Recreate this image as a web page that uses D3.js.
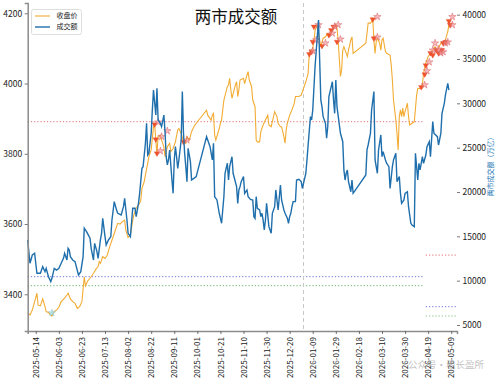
<!DOCTYPE html>
<html>
<head>
<meta charset="utf-8">
<script src="https://cdn.jsdelivr.net/npm/d3@7"></script>
<style>
  body { margin: 0; background: #fff; }
  text { font-family: "Noto Sans CJK SC", "DejaVu Sans", sans-serif; }
</style>
</head>
<body>
<div id="chart"></div>
<script>
// 收盘价 (left axis)
const closeSeries = [
  ["2025-05-07",3346],["2025-05-09",3341],["2025-05-11",3355],["2025-05-13",3379],["2025-05-15",3403],
  ["2025-05-16",3369],["2025-05-18",3367],["2025-05-20",3387],["2025-05-22",3365],["2025-05-23",3351],
  ["2025-05-25",3348],["2025-05-27",3341],["2025-05-28",3338],["2025-05-30",3351],["2025-06-01",3355],
  ["2025-06-03",3363],["2025-06-05",3379],["2025-06-08",3389],["2025-06-10",3398],["2025-06-11",3403],
  ["2025-06-13",3387],["2025-06-15",3379],["2025-06-17",3374],["2025-06-19",3360],["2025-06-21",3365],
  ["2025-06-23",3379],["2025-06-25",3450],["2025-06-26",3424],["2025-06-28",3438],["2025-07-01",3450],
  ["2025-07-03",3460],["2025-07-05",3471],["2025-07-07",3479],["2025-07-08",3493],["2025-07-09",3488],
  ["2025-07-11",3507],["2025-07-13",3502],["2025-07-15",3512],["2025-07-17",3535],["2025-07-19",3554],
  ["2025-07-22",3583],["2025-07-24",3602],["2025-07-26",3600],["2025-07-28",3607],["2025-07-30",3611],
  ["2025-07-31",3583],["2025-08-02",3562],["2025-08-04",3569],["2025-08-06",3611],["2025-08-07",3626],
  ["2025-08-09",3645],["2025-08-12",3659],["2025-08-13",3668],["2025-08-14",3702],["2025-08-16",3721],
  ["2025-08-17",3740],["2025-08-19",3773],["2025-08-20",3792],["2025-08-22",3811],["2025-08-23",3844],
  ["2025-08-24",3877],["2025-08-25",3885],["2025-08-26",3839],["2025-08-27",3799],["2025-08-28",3849],
  ["2025-08-30",3853],["2025-08-31",3839],["2025-09-02",3820],["2025-09-03",3792],["2025-09-05",3820],
  ["2025-09-07",3830],["2025-09-08",3806],["2025-09-10",3815],["2025-09-12",3834],["2025-09-14",3868],
  ["2025-09-15",3872],["2025-09-17",3858],["2025-09-19",3834],["2025-09-21",3830],["2025-09-22",3849],
  ["2025-09-24",3839],["2025-09-26",3863],["2025-09-28",3877],["2025-09-30",3887],["2025-10-09",3924],
  ["2025-10-10",3910],["2025-10-13",3896],["2025-10-14",3910],["2025-10-15",3915],["2025-10-16",3853],
  ["2025-10-17",3839],["2025-10-20",3872],["2025-10-21",3887],["2025-10-22",3896],["2025-10-23",3925],
  ["2025-10-24",3953],["2025-10-27",3991],["2025-10-28",3996],["2025-10-29",4015],["2025-10-30",3982],
  ["2025-10-31",3958],["2025-11-03",3996],["2025-11-04",4005],["2025-11-05",3963],["2025-11-06",3982],
  ["2025-11-07",4010],["2025-11-10",4015],["2025-11-11",4000],["2025-11-13",4024],["2025-11-14",4034],
  ["2025-11-15",4010],["2025-11-17",3991],["2025-11-18",3953],["2025-11-20",3934],["2025-11-21",3839],
  ["2025-11-22",3834],["2025-11-24",3834],["2025-11-25",3863],["2025-11-27",3882],["2025-11-29",3896],
  ["2025-12-01",3910],["2025-12-02",3882],["2025-12-04",3877],["2025-12-06",3906],["2025-12-07",3920],
  ["2025-12-09",3906],["2025-12-10",3887],["2025-12-12",3877],["2025-12-13",3877],["2025-12-15",3849],
  ["2025-12-16",3830],["2025-12-17",3868],["2025-12-18",3887],["2025-12-20",3910],["2025-12-22",3925],
  ["2025-12-24",3944],["2025-12-25",3963],["2025-12-28",3963],["2025-12-30",3967],["2026-01-03",4005],
  ["2026-01-05",4029],["2026-01-06",4086],["2026-01-08",4095],["2026-01-09",4100],["2026-01-10",4119],
  ["2026-01-11",4152],["2026-01-13",4167],["2026-01-14",4143],["2026-01-15",4124],["2026-01-16",4105],
  ["2026-01-18",4129],["2026-01-20",4133],["2026-01-22",4143],["2026-01-24",4138],["2026-01-26",4148],
  ["2026-01-27",4157],["2026-01-29",4167],["2026-01-30",4157],["2026-01-31",4124],["2026-02-02",4020],
  ["2026-02-03",4039],["2026-02-04",4095],["2026-02-05",4105],["2026-02-06",4095],["2026-02-08",4077],
  ["2026-02-09",4095],["2026-02-11",4124],["2026-02-12",4133],["2026-02-13",4086],["2026-02-24",4115],
  ["2026-02-25",4143],["2026-02-26",4172],["2026-02-28",4172],["2026-03-01",4176],["2026-03-02",4186],
  ["2026-03-03",4124],["2026-03-04",4086],["2026-03-05",4119],["2026-03-06",4129],["2026-03-08",4115],
  ["2026-03-09",4095],["2026-03-10",4124],["2026-03-11",4129],["2026-03-13",4091],["2026-03-14",4086],
  ["2026-03-17",4081],["2026-03-18",4053],["2026-03-19",4010],["2026-03-20",3953],["2026-03-22",3896],
  ["2026-03-23",3858],["2026-03-24",3811],["2026-03-25",3906],["2026-03-26",3925],["2026-03-27",3906],
  ["2026-03-28",3930],["2026-03-29",3906],["2026-03-30",3920],["2026-04-01",3944],["2026-04-02",3906],
  ["2026-04-03",3882],["2026-04-05",3887],["2026-04-07",3891],["2026-04-09",3967],["2026-04-10",3986],
  ["2026-04-12",3986],["2026-04-14",3996],["2026-04-15",4029],["2026-04-17",4058],["2026-04-19",4077],
  ["2026-04-21",4086],["2026-04-23",4095],["2026-04-25",4105],["2026-04-27",4095],["2026-04-30",4115],
  ["2026-05-02",4119],["2026-05-04",4124],["2026-05-06",4148],["2026-05-07",4167],["2026-05-08",4181]
];

// 成交额 (right axis)
const volumeSeries = [
  ["2025-05-07",14590],["2025-05-09",11960],["2025-05-11",12900],["2025-05-13",13090],["2025-05-15",10830],
  ["2025-05-18",10830],["2025-05-20",11580],["2025-05-22",11010],["2025-05-23",11390],["2025-05-25",10450],
  ["2025-05-27",9890],["2025-05-28",10260],["2025-05-30",11390],["2025-06-01",11200],["2025-06-03",11390],
  ["2025-06-05",11960],["2025-06-07",12520],["2025-06-08",13090],["2025-06-10",12330],["2025-06-11",13650],
  ["2025-06-12",13460],["2025-06-13",12700],["2025-06-15",12330],["2025-06-17",12140],["2025-06-20",10640],
  ["2025-06-22",11010],["2025-06-24",12700],["2025-06-25",15910],["2025-06-27",15520],["2025-06-30",14780],
  ["2025-07-01",13650],["2025-07-03",12330],["2025-07-04",14210],["2025-07-06",13270],["2025-07-07",12520],
  ["2025-07-09",14590],["2025-07-10",15340],["2025-07-11",17030],["2025-07-13",14960],["2025-07-14",14020],
  ["2025-07-16",14590],["2025-07-18",14960],["2025-07-19",16840],["2025-07-21",18910],["2025-07-23",17970],
  ["2025-07-24",17600],["2025-07-27",17410],["2025-07-29",18340],["2025-07-30",19290],["2025-08-01",16840],
  ["2025-08-02",15340],["2025-08-04",14960],["2025-08-06",18160],["2025-08-08",18160],["2025-08-09",17220],
  ["2025-08-11",18720],["2025-08-12",19850],["2025-08-14",22670],["2025-08-15",22860],["2025-08-17",25490],
  ["2025-08-18",27750],["2025-08-19",24170],["2025-08-20",24360],["2025-08-22",26620],["2025-08-23",29250],
  ["2025-08-24",31500],["2025-08-26",28680],["2025-08-27",31700],["2025-08-28",28120],["2025-08-30",27750],
  ["2025-08-31",27370],["2025-09-02",28680],["2025-09-03",26800],["2025-09-04",23980],["2025-09-05",23050],
  ["2025-09-06",23610],["2025-09-07",24740],["2025-09-09",21350],["2025-09-10",19850],["2025-09-11",23610],
  ["2025-09-12",25110],["2025-09-13",23980],["2025-09-14",22670],["2025-09-15",23610],["2025-09-17",25860],
  ["2025-09-18",31320],["2025-09-19",26620],["2025-09-20",24360],["2025-09-21",22860],["2025-09-22",21170],
  ["2025-09-23",24920],["2025-09-25",23420],["2025-09-26",21350],["2025-09-28",21540],["2025-09-30",21730],
  ["2025-10-09",26240],["2025-10-12",25110],["2025-10-14",23610],["2025-10-15",25490],["2025-10-16",19470],
  ["2025-10-18",19100],["2025-10-20",17600],["2025-10-22",16470],["2025-10-24",19470],["2025-10-25",22110],
  ["2025-10-27",23240],["2025-10-28",21350],["2025-10-29",22860],["2025-10-31",23980],["2025-11-01",22110],
  ["2025-11-04",20600],["2025-11-05",18720],["2025-11-06",20230],["2025-11-07",20600],["2025-11-08",21170],
  ["2025-11-10",21730],["2025-11-11",19850],["2025-11-13",20230],["2025-11-14",19470],["2025-11-16",19170],
  ["2025-11-18",19100],["2025-11-19",17220],["2025-11-20",17030],["2025-11-21",19470],["2025-11-22",18160],
  ["2025-11-24",17970],["2025-11-25",17220],["2025-11-26",17600],["2025-11-27",16840],["2025-11-28",15710],
  ["2025-11-29",16840],["2025-11-30",18720],["2025-12-02",16090],["2025-12-03",15710],["2025-12-04",15340],
  ["2025-12-05",17600],["2025-12-07",18340],["2025-12-08",20230],["2025-12-09",19100],["2025-12-10",17970],
  ["2025-12-12",20790],["2025-12-13",19100],["2025-12-15",17970],["2025-12-16",17600],["2025-12-18",17030],
  ["2025-12-19",16470],["2025-12-20",17220],["2025-12-21",17600],["2025-12-22",18340],["2025-12-23",18910],
  ["2025-12-25",18910],["2025-12-26",21350],["2025-12-28",21430],["2025-12-30",21170],["2025-12-31",20410],
  ["2026-01-03",22110],["2026-01-04",23610],["2026-01-05",25300],["2026-01-07",28500],["2026-01-08",28120],
  ["2026-01-09",29250],["2026-01-11",34130],["2026-01-14",39400],["2026-01-15",34890],["2026-01-16",30380],
  ["2026-01-17",29620],["2026-01-18",28500],["2026-01-20",27750],["2026-01-21",26060],["2026-01-22",27370],
  ["2026-01-23",30750],["2026-01-26",32440],["2026-01-27",30380],["2026-01-28",28870],["2026-01-29",32630],
  ["2026-01-30",29620],["2026-02-02",26620],["2026-02-04",25670],["2026-02-05",22500],["2026-02-06",21350],
  ["2026-02-07",22110],["2026-02-08",22480],["2026-02-09",21170],["2026-02-11",20030],["2026-02-12",21350],
  ["2026-02-13",19850],["2026-02-24",21920],["2026-02-25",24740],["2026-02-26",25300],["2026-02-28",26620],
  ["2026-03-01",29250],["2026-03-03",31320],["2026-03-04",23610],["2026-03-06",22110],["2026-03-07",24740],
  ["2026-03-09",26430],["2026-03-10",23980],["2026-03-11",24550],["2026-03-13",23610],["2026-03-14",23240],
  ["2026-03-16",22860],["2026-03-17",20410],["2026-03-19",22860],["2026-03-20",23610],["2026-03-22",24360],
  ["2026-03-23",21170],["2026-03-25",21730],["2026-03-26",19850],["2026-03-27",18720],["2026-03-29",19100],
  ["2026-03-30",19850],["2026-04-01",20030],["2026-04-02",18340],["2026-04-04",16470],["2026-04-05",16280],
  ["2026-04-07",16090],["2026-04-08",24360],["2026-04-10",21350],["2026-04-11",23240],["2026-04-12",22480],
  ["2026-04-14",23980],["2026-04-15",23240],["2026-04-17",24170],["2026-04-18",25110],["2026-04-20",25670],
  ["2026-04-21",23980],["2026-04-23",27940],["2026-04-24",26620],["2026-04-27",26240],["2026-04-28",25300],
  ["2026-04-30",26620],["2026-05-01",28870],["2026-05-03",30000],["2026-05-04",30940],["2026-05-06",32260],
  ["2026-05-07",31500]
];

// signal markers on the close line
const triangleSignals = [
  ["2025-08-25",3884],["2025-08-26",3841],["2025-08-27",3801],["2025-09-19",3834],
  ["2026-01-06",4084],["2026-01-08",4090],["2026-01-09",4119],["2026-01-10",4162],["2026-01-17",4107],
  ["2026-01-23",4138],["2026-01-25",4152],["2026-01-27",4162],["2026-01-30",4119],
  ["2026-03-02",4183],["2026-03-03",4129],
  ["2026-04-13",3990],["2026-04-16",4026],["2026-04-17",4052],["2026-04-21",4087],["2026-04-23",4081],
  ["2026-04-26",4095],["2026-04-28",4087],["2026-05-01",4095],["2026-05-02",4115],["2026-05-04",4118],
  ["2026-05-07",4178],["2026-05-08",4167]
];
const starSignals = [
  ["2025-08-28",3890],["2025-08-31",3849],["2025-09-05",3865],["2025-08-30",3808],["2025-09-22",3839],
  ["2026-01-09",4093],["2026-01-12",4124],["2026-01-14",4167],["2026-01-20",4115],["2026-01-26",4143],
  ["2026-01-28",4162],["2026-01-31",4167],["2026-02-02",4126],
  ["2026-03-06",4190],["2026-03-06",4132],
  ["2026-04-16",3996],["2026-04-18",4036],["2026-04-20",4061],["2026-04-23",4095],["2026-04-25",4115],
  ["2026-04-28",4098],["2026-04-30",4087],["2026-05-02",4090],["2026-05-04",4115],["2026-05-06",4118],
  ["2026-05-10",4190],["2026-05-10",4167]
];
const lowSignals = [["2025-05-28",3347]];

// reference levels on the right axis
const longRefValues = [27930, 10450, 9430];
const shortRefValues = [12890, 7070, 6015];
const refSplitDates = ["2026-04-15", "2026-04-17"];
const dividerDate = "2026-01-01";

const leftTicks = [3400, 3600, 3800, 4000, 4200];
const rightTicks = [5000, 10000, 15000, 20000, 25000, 30000, 35000, 40000];
const dateTicks = ["2025-05-14","2025-06-03","2025-06-23","2025-07-13","2025-08-02","2025-08-22",
  "2025-09-11","2025-10-01","2025-10-21","2025-11-10","2025-11-30","2025-12-20","2026-01-09",
  "2026-01-29","2026-02-18","2026-03-10","2026-03-30","2026-04-19","2026-05-09"];

const parse = d3.timeParse("%Y-%m-%d");
const W = 500, H = 381;
const plot = {left: 27.7, right: 457, top: 3, bottom: 331};

const svg = d3.select("#chart").append("svg")
    .attr("width", W).attr("height", H);

const x = d3.scaleTime()
    .domain([parse(closeSeries[0][0]), parse("2026-05-14")])
    .range([plot.left, plot.right]);
const yL = d3.scaleLinear().domain([3295.5, 4229.3]).range([plot.bottom, plot.top]);
const yR = d3.scaleLinear().domain([4323, 41314]).range([plot.bottom, plot.top]);

// reference lines
const refColors = ["#e98a8a", "#8a8ae6", "#86c286"];
longRefValues.forEach((v, i) => {
  svg.append("line")
    .attr("x1", x.range()[0]).attr("x2", x(parse(refSplitDates[0])))
    .attr("y1", yR(v)).attr("y2", yR(v))
    .attr("stroke", refColors[i]).attr("stroke-width", 1.2).attr("stroke-dasharray", "1.2,2");
});
shortRefValues.forEach((v, i) => {
  svg.append("line")
    .attr("x1", x(parse(refSplitDates[1]))).attr("x2", x.range()[1])
    .attr("y1", yR(v)).attr("y2", yR(v))
    .attr("stroke", refColors[i]).attr("stroke-width", 1.2).attr("stroke-dasharray", "1.2,2");
});

// vertical divider
svg.append("line")
  .attr("x1", x(parse(dividerDate))).attr("x2", x(parse(dividerDate)))
  .attr("y1", plot.top).attr("y2", plot.bottom)
  .attr("stroke", "#c8c8c8").attr("stroke-width", 1).attr("stroke-dasharray", "4,3");

// close line
const closeLine = d3.line().x(d => x(parse(d[0]))).y(d => yL(d[1]));
svg.append("path").datum(closeSeries)
  .attr("d", closeLine).attr("fill", "none")
  .attr("stroke", "#f2ac34").attr("stroke-width", 1.1);

// markers
const tri = d3.symbol().type(d3.symbolTriangle).size(13);
svg.selectAll(".tri").data(triangleSignals).join("path")
  .attr("transform", d => `translate(${x(parse(d[0]))},${yL(d[1])}) rotate(180)`)
  .attr("d", tri).attr("fill", "#f2522a").attr("stroke", "#e0401c").attr("stroke-width", 0.3);
const star = d3.symbol().type(d3.symbolStar).size(17);
svg.selectAll(".star").data(starSignals).join("path")
  .attr("transform", d => `translate(${x(parse(d[0]))},${yL(d[1])})`)
  .attr("d", star).attr("fill", "rgba(240,140,150,0.6)").attr("stroke", "#d9605f").attr("stroke-width", 0.5);
svg.selectAll(".low").data(lowSignals).join("path")
  .attr("transform", d => `translate(${x(parse(d[0]))},${yL(d[1])})`)
  .attr("d", star).attr("fill", "rgba(150,215,225,0.75)").attr("stroke", "#9cc9d4").attr("stroke-width", 0.5);

// volume line
const volLine = d3.line().x(d => x(parse(d[0]))).y(d => yR(d[1]));
svg.append("path").datum(volumeSeries)
  .attr("d", volLine).attr("fill", "none")
  .attr("stroke", "#1f6fad").attr("stroke-width", 1.4);

// axes
const axisFont = 8.5;
const gL = svg.append("g").attr("transform", `translate(${plot.left},0)`)
  .call(d3.axisLeft(yL).tickValues(leftTicks).tickSize(3).tickPadding(2.5).tickFormat(d3.format("d")));
const gR = svg.append("g").attr("transform", `translate(${plot.right},0)`)
  .call(d3.axisRight(yR).tickValues(rightTicks).tickSize(3).tickPadding(2.5).tickFormat(d3.format("d")));
gR.select(".domain").remove();
const gB = svg.append("g").attr("transform", `translate(0,${plot.bottom})`)
  .call(d3.axisBottom(x).tickValues(dateTicks.map(parse)).tickSize(3).tickFormat(d3.timeFormat("%Y-%m-%d")));
gB.selectAll("text")
  .attr("transform", "rotate(-90)")
  .attr("text-anchor", "end")
  .attr("x", -6).attr("y", 0).attr("dy", "0.33em");

[gL, gR, gB].forEach(g => {
  g.select(".domain").attr("stroke", "#8c8c8c").attr("stroke-width", 1.5);
  g.selectAll(".tick line").attr("stroke", "#555").attr("stroke-width", 0.8);
  g.selectAll("text").attr("fill", "#222").style("font-size", axisFont + "px");
});
gB.selectAll("text").style("font-size", "8px");

// right axis label
svg.append("text")
  .attr("transform", `translate(490.5,165) rotate(-90)`)
  .attr("text-anchor", "middle").attr("dy", "0.35em")
  .attr("fill", "#2a7ab5").style("font-size", "7px")
  .text("两市成交额（万亿）");

// title
svg.append("text")
  .attr("x", 236).attr("y", 23)
  .attr("text-anchor", "middle")
  .attr("fill", "#111").style("font-size", "16.5px")
  .text("两市成交额");

// legend
const lg = svg.append("g").attr("transform", "translate(31.5,9.5)");
lg.append("rect").attr("width", 50).attr("height", 25).attr("rx", 2)
  .attr("fill", "rgba(255,255,255,0.85)").attr("stroke", "#d6d6d6").attr("stroke-width", 0.8);
const legendItems = [["收盘价", "#f2ac34"], ["成交额", "#1f6fad"]];
legendItems.forEach((it, i) => {
  const yy = 6.5 + i * 11;
  lg.append("line").attr("x1", 3.5).attr("x2", 18.5).attr("y1", yy).attr("y2", yy)
    .attr("stroke", it[1]).attr("stroke-width", i ? 1.4 : 1.1);
  lg.append("text").attr("x", 25).attr("y", yy).attr("dy", "0.35em")
    .attr("fill", "#222").style("font-size", "7px").text(it[0]);
});

// watermark
svg.append("text")
  .attr("x", 446).attr("y", 365).attr("text-anchor", "middle").attr("dy", "0.35em")
  .attr("fill", "rgba(150,150,150,0.6)").style("font-size", "9.5px")
  .text("公众号·稳长盈所");
</script>
</body>
</html>
